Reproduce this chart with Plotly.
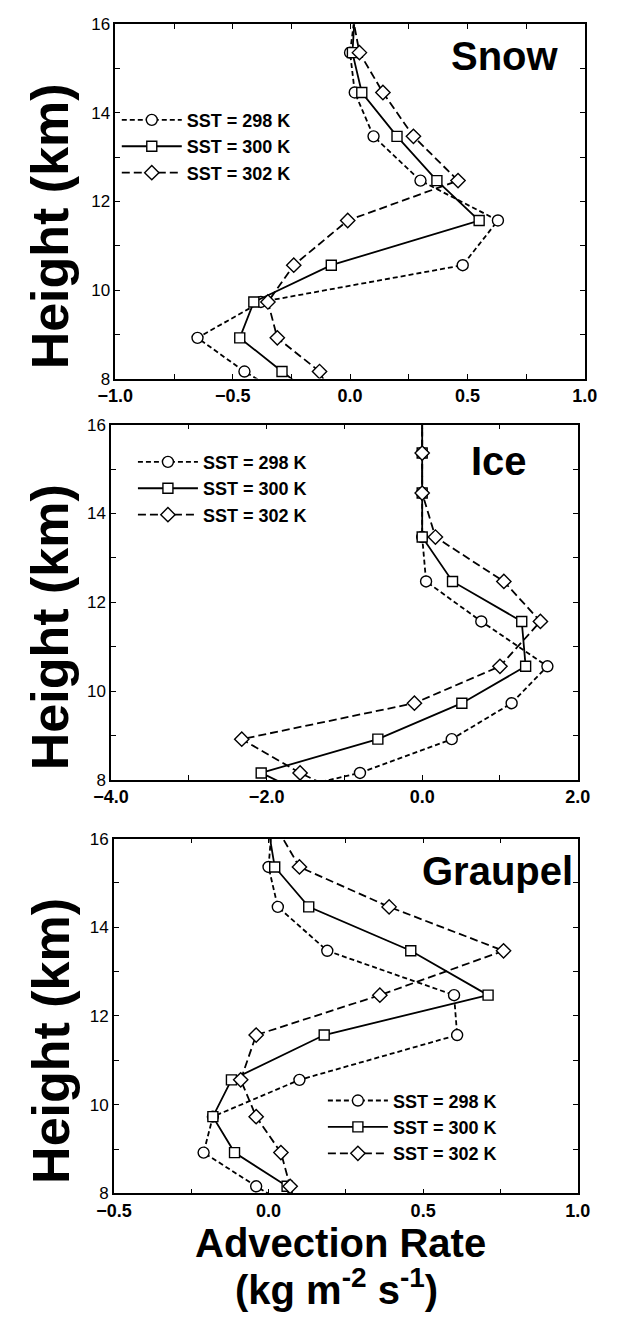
import plotly.graph_objects as go

# ---------------- data ----------------
HEIGHT = [16.2, 15.36, 14.46, 13.47, 12.47, 11.57, 10.56, 9.73, 8.92, 8.16, 7.4]
SERIES = ["SST = 298 K", "SST = 300 K", "SST = 302 K"]

SNOW_298 = [0.02, 0.00, 0.02, 0.10, 0.30, 0.63, 0.48, -0.38, -0.65, -0.45, -0.21]
SNOW_300 = [0.02, 0.01, 0.05, 0.20, 0.37, 0.55, -0.08, -0.41, -0.47, -0.29, -0.10]
SNOW_302 = [0.01, 0.04, 0.14, 0.27, 0.46, -0.01, -0.24, -0.35, -0.31, -0.13, -0.06]

ICE_298 = [0.0, 0.0, 0.0, 0.0, 0.05, 0.76, 1.61, 1.15, 0.38, -0.80, -2.70]
ICE_300 = [0.0, 0.0, 0.0, 0.0, 0.39, 1.28, 1.33, 0.51, -0.57, -2.07, -1.17]
ICE_302 = [0.0, 0.0, 0.0, 0.17, 1.05, 1.52, 1.00, -0.10, -2.32, -1.57, -0.67]

GRAUPEL_298 = [0.01, 0.00, 0.03, 0.19, 0.60, 0.61, 0.10, -0.18, -0.21, -0.04, 0.14]
GRAUPEL_300 = [0.00, 0.02, 0.13, 0.46, 0.71, 0.18, -0.12, -0.18, -0.11, 0.06, 0.08]
GRAUPEL_302 = [0.03, 0.10, 0.39, 0.76, 0.36, -0.04, -0.09, -0.04, 0.04, 0.07, 0.10]

PANEL_NAMES = ["Snow", "Ice", "Graupel"]
X_RANGES = [[-1.0, 1.0], [-4.0, 2.0], [-0.5, 1.0]]
X_DTICK = [0.5, 2.0, 0.5]
X_MINOR = [0.25, 1.0, 0.25]
Y_RANGE = [8, 16]

PANEL_DATA = [
    [SNOW_298, SNOW_300, SNOW_302],
    [ICE_298, ICE_300, ICE_302],
    [GRAUPEL_298, GRAUPEL_300, GRAUPEL_302],
]

# ---------------- styling ----------------
W, H = 618, 1319
FONT = "Liberation Sans, Arial, Helvetica, sans-serif"
DASHES = ["5px,3px", "solid", "8px,4px"]
SYMBOLS = ["circle", "square", "diamond"]
MSIZES = [11, 10, 11]

# plot boxes in pixels (left, right, top, bottom)
BOXES = [
    (102.5, 596.7, 15.5, 375.0),
    (98.0, 589.3, 421.7, 782.3),
    (101.0, 589.3, 841.7, 1201.7),
]
# legend positions (left, top) in pixels
LEGEND_POS = [(104, 94), (121, 441), (321, 1089)]
# panel label: right edge x, centre y (pixels)
LABEL_POS = [(572, 47.5), (538, 458.4), (586, 874.4)]

fig = go.Figure()

for p in range(3):
    sfx = "" if p == 0 else str(p + 1)
    leg = "legend" if p == 0 else "legend" + str(p + 1)
    for s in range(3):
        fig.add_trace(go.Scatter(
            x=PANEL_DATA[p][s], y=HEIGHT,
            xaxis="x" + sfx, yaxis="y" + sfx,
            mode="lines+markers",
            name=SERIES[s],
            legend=leg,
            cliponaxis=True,
            line=dict(color="black", width=1.8, dash=DASHES[s]),
            marker=dict(symbol=SYMBOLS[s], size=MSIZES[s], color="white",
                        line=dict(color="black", width=1.4)),
        ))

layout = dict(
    width=W, height=H,
    margin=dict(l=0, r=0, t=0, b=0),
    paper_bgcolor="white", plot_bgcolor="white",
    font=dict(family=FONT, color="black"),
    showlegend=True,
)

annotations = []
for p in range(3):
    sfx = "" if p == 0 else str(p + 1)
    l, r, t, b = BOXES[p]
    layout["xaxis" + sfx] = dict(
        domain=[l / W, r / W], anchor="y" + sfx, range=X_RANGES[p],
        dtick=X_DTICK[p], tick0=0, tickformat=".1f",
        showline=True, linecolor="black", linewidth=1.5, mirror="ticks",
        ticks="inside", ticklen=5, tickwidth=1.2, tickcolor="black",
        tickfont=dict(family=FONT, size=18, weight="bold"),
        showgrid=False, zeroline=False, fixedrange=True,
        minor=dict(dtick=X_MINOR[p], tick0=0, ticks="inside", ticklen=5,
                   tickwidth=1.2, tickcolor="black", showgrid=False),
    )
    layout["yaxis" + sfx] = dict(
        domain=[1 - b / H, 1 - t / H], anchor="x" + sfx, range=Y_RANGE,
        dtick=2, tick0=0,
        showline=True, linecolor="black", linewidth=1.5, mirror="ticks",
        ticks="inside", ticklen=5, tickwidth=1.2, tickcolor="black",
        tickfont=dict(family=FONT, size=17),
        showgrid=False, zeroline=False, fixedrange=True,
        minor=dict(dtick=1, tick0=0, ticks="inside", ticklen=5,
                   tickwidth=1.2, tickcolor="black", showgrid=False),
    )
    lx, ly = LEGEND_POS[p]
    layout["legend" if p == 0 else "legend" + str(p + 1)] = dict(
        x=lx / W, y=1 - ly / H, xanchor="left", yanchor="top",
        bgcolor="rgba(0,0,0,0)", borderwidth=0,
        font=dict(family=FONT, size=18, weight="bold", color="black"),
        itemwidth=60, tracegroupgap=0, itemclick=False,
    )
    # panel label
    ax, ay = LABEL_POS[p]
    annotations.append(dict(
        text=PANEL_NAMES[p], xref="paper", yref="paper",
        x=ax / W, y=1 - ay / H, xanchor="right", yanchor="middle",
        showarrow=False, font=dict(family=FONT, size=40, weight="bold")))
    # y-axis title
    annotations.append(dict(
        text="Height (km)", xref="paper", yref="paper", textangle=-90,
        x=34 / W, y=1 - ((t + b) / 2 + 25) / H, xanchor="center", yanchor="middle",
        showarrow=False, font=dict(family=FONT, size=52, weight="bold")))

annotations.append(dict(
    text="Advection Rate", xref="paper", yref="paper",
    x=340 / W, y=1 - 1252 / H, xanchor="center", yanchor="middle",
    showarrow=False, font=dict(family=FONT, size=40, weight="bold")))
annotations.append(dict(
    text="(kg m<sup>-2</sup> s<sup>-1</sup>)", xref="paper", yref="paper",
    x=335 / W, y=1 - 1297 / H, xanchor="center", yanchor="middle",
    showarrow=False, font=dict(family=FONT, size=40, weight="bold")))

layout["annotations"] = annotations
fig.update_layout(**layout)

fig.write_html("out.html", config={"displayModeBar": False})
